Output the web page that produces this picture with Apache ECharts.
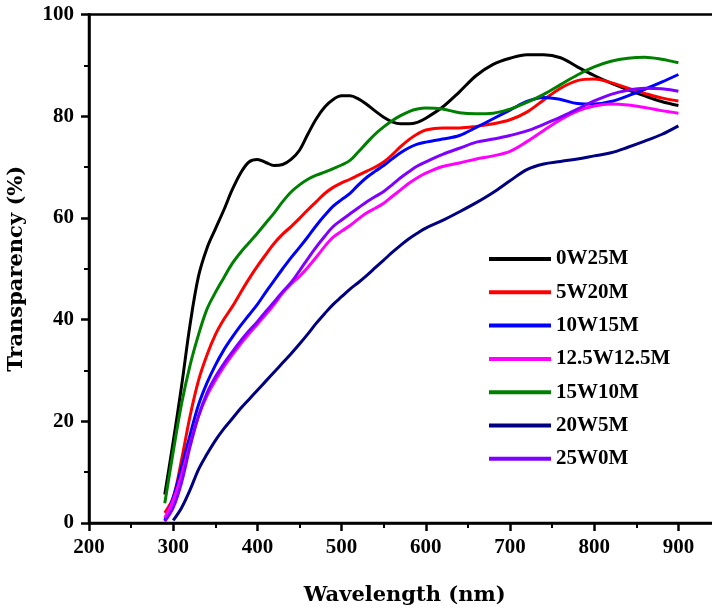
<!DOCTYPE html>
<html>
<head>
<meta charset="utf-8">
<script src="https://cdn.jsdelivr.net/npm/echarts@6/dist/echarts.min.js"></script>
<style>
html,body{margin:0;padding:0;background:#fff;}
#chart{width:712px;height:609px;}
</style>
</head>
<body>
<div id="chart"></div>
<script>
// Wavelength grid (nm)
var wavelengths = [290,300,310,320,330,340,350,360,370,380,390,400,410,420,430,440,450,460,470,480,490,500,510,520,530,540,550,560,570,580,590,600,620,640,660,680,700,720,740,760,780,800,820,840,860,880,900];

var names = ['0W25M','5W20M','10W15M','12.5W12.5M','15W10M','20W5M','25W0M'];
var colors = ['#000000','#FF0000','#0000FF','#FF00FF','#008000','#000080','#8000FF'];

var s0W25M = [5.6,16,27,39,48.5,54,57.8,61.5,65.5,68.8,71,71.5,70.9,70.3,70.5,71.5,73.3,76.5,79.5,81.8,83.3,84,84,83.4,82.3,81,79.8,78.9,78.5,78.5,78.8,79.6,81.8,84.8,88,90.2,91.4,92.1,92.1,91.5,89.7,88,86.5,85.2,84,82.9,82.1];
var s5W20M = [2,5,12.5,21,28,33,37,40,42.5,45.3,48,50.5,52.8,55,56.8,58.3,59.9,61.6,63.2,64.8,66,66.9,67.6,68.4,69.2,70,71,72.4,74,75.4,76.5,77.3,77.7,77.7,78,78.5,79.3,80.8,83.2,85.5,87,87.3,86.6,85.5,84.5,83.6,83];
var s10W15M = [0.5,5,11,17.3,23.2,27.5,31,34,36.5,38.8,40.9,43,45.4,47.7,50,52.2,54.2,56.3,58.5,60.5,62.3,63.6,64.8,66.5,68,69.2,70.3,71.6,72.8,73.8,74.5,74.9,75.5,76.2,77.8,79.5,81.2,82.9,83.7,83.3,82.5,82.4,82.9,84,85.3,86.7,88.2];
var s12W12M = [1,4.5,9.5,15.5,21,25,28,30.7,33,35.2,37.2,39.1,41,43,45.2,47,48.5,50.3,52.3,54.4,56.2,57.4,58.5,59.8,61,61.9,62.9,64.2,65.5,66.8,67.9,68.8,70.1,70.8,71.6,72.2,73.1,75,77.2,79.3,81,82,82.4,82.2,81.7,81.1,80.6];
var s15W10M = [3.9,14,23.5,31,37,42,45.3,48.2,51,53.2,55.1,57,59,61,63.2,65.1,66.5,67.6,68.4,69,69.7,70.4,71.3,73,74.8,76.5,77.9,79.1,80.1,80.9,81.4,81.6,81.4,80.7,80.5,80.6,81.4,82.7,84.3,86.2,88.1,89.7,90.8,91.4,91.6,91.2,90.5];
var s20W5M = [null,0.5,3,6.5,10.5,13.5,16.2,18.5,20.5,22.5,24.3,26.1,27.9,29.7,31.5,33.3,35.2,37.2,39.3,41.2,43,44.5,46,47.3,48.7,50.2,51.7,53.2,54.6,55.9,57,58,59.5,61.2,63,65,67.3,69.5,70.6,71.1,71.6,72.2,72.8,73.9,75.1,76.4,78.1];
var s25W0M = [0.3,3,8,15,21,25.5,28.7,31.3,33.6,35.8,37.8,39.6,41.6,43.5,45.5,47.3,49.6,52,54.3,56.4,58.3,59.6,60.8,62,63.2,64.2,65.2,66.5,67.9,69.1,70.2,71,72.5,73.7,74.9,75.5,76.2,77.1,78.4,79.8,81.4,83,84.3,85.1,85.5,85.4,84.9];

var xTicks = {min:200, max:950, interval:100};
var yTicks = {min:0, max:100, interval:20};

var allValues = [s0W25M,s5W20M,s10W15M,s12W12M,s15W10M,s20W5M,s25W0M];

var serif = 'Liberation Serif';
var series = names.map(function(n,i){
  return {
    name:n, type:'line', smooth:0.35, symbol:'none', clip:true,
    connectNulls:false,
    lineStyle:{width:3, color:colors[i]},
    itemStyle:{color:colors[i]},
    data: wavelengths.map(function(w,j){ return [w, allValues[i][j]]; })
  };
});

var chart = echarts.init(document.getElementById('chart'), null, {renderer:'canvas'});
chart.setOption({
  animation:false,
  backgroundColor:'#ffffff',
  grid:{left:89, top:14.5, width:631.5, height:508.5, show:true, borderColor:'#000', borderWidth:2.5, containLabel:false, outerBoundsMode:'none'},
  legend:{
    orient:'vertical', left:484, top:243,
    icon:'rect', itemWidth:62, itemHeight:4, itemGap:11.3,
    textStyle:{fontFamily:serif, fontWeight:'bold', fontSize:21, color:'#000', lineHeight:22},
    data:names
  },
  xAxis:{
    type:'value', min:xTicks.min, max:xTicks.max, interval:xTicks.interval,
    name:'Wavelength (nm)', nameLocation:'middle', nameGap:62,
    nameTextStyle:{fontFamily:'DejaVu Serif', fontWeight:'bold', fontSize:21, color:'#000'},
    axisLine:{show:true, onZero:false, lineStyle:{color:'#000', width:2.5}},
    axisTick:{show:true, inside:false, length:8, lineStyle:{color:'#000', width:2.5}},
    minorTick:{show:true, splitNumber:2, length:5, lineStyle:{color:'#000', width:2}},
    axisLabel:{show:true, margin:14, showMaxLabel:false, fontFamily:serif, fontWeight:'bold', fontSize:21, color:'#000'},
    splitLine:{show:false}
  },
  yAxis:{
    type:'value', min:yTicks.min, max:yTicks.max, interval:yTicks.interval,
    name:'Transparency (%)', nameLocation:'middle', nameGap:62,
    nameTextStyle:{fontFamily:'DejaVu Serif', fontWeight:'bold', fontSize:21, color:'#000'},
    axisLine:{show:true, lineStyle:{color:'#000', width:2.5}},
    axisTick:{show:true, inside:false, length:8, lineStyle:{color:'#000', width:2.5}},
    minorTick:{show:true, splitNumber:2, length:5, lineStyle:{color:'#000', width:2}},
    axisLabel:{show:true, margin:15, fontFamily:serif, fontWeight:'bold', fontSize:21, color:'#000'},
    splitLine:{show:false}
  },
  series:series
});
</script>
</body>
</html>
